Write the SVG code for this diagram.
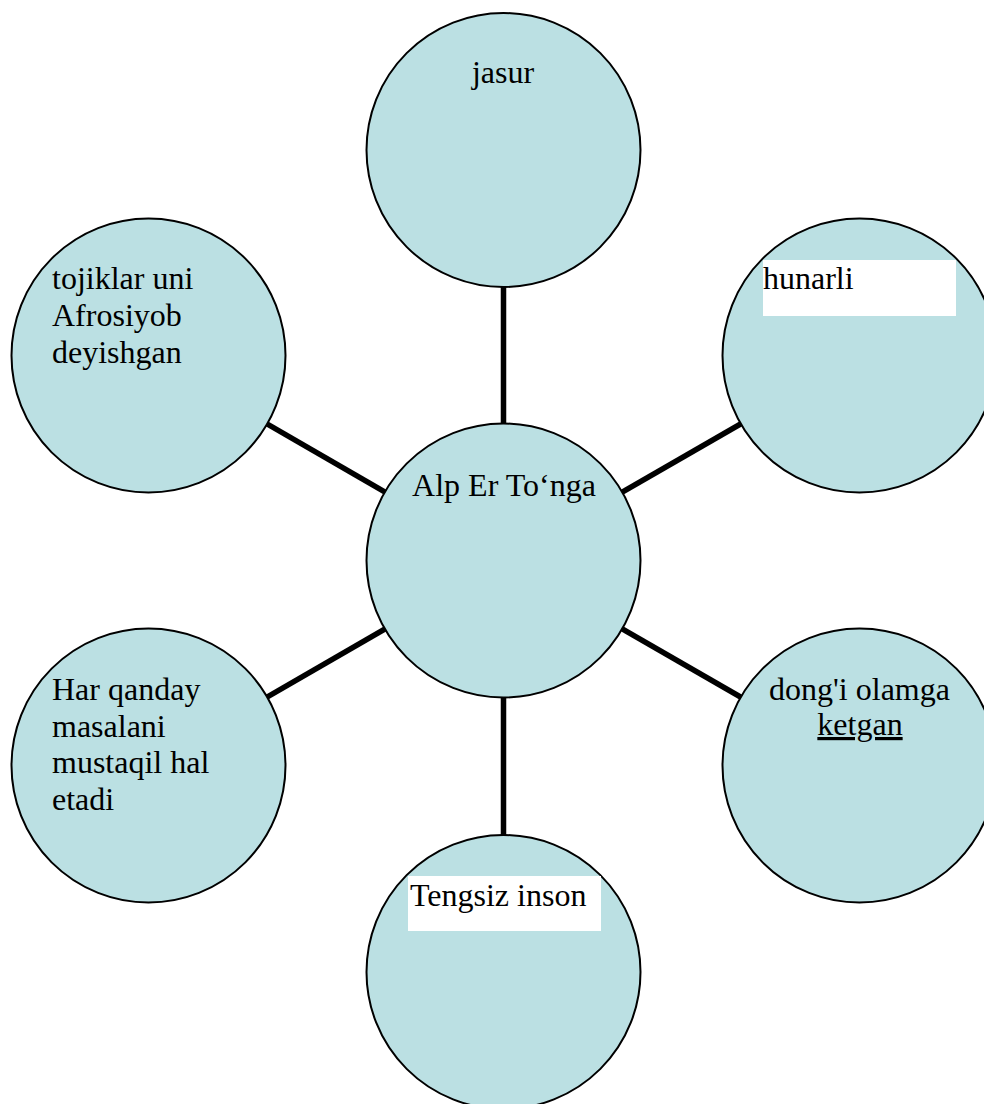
<svg xmlns="http://www.w3.org/2000/svg" width="984" height="1104" viewBox="0 0 984 1104">
<style>
.node{fill:#BBE0E3;stroke:#000;stroke-width:2}
.conn{stroke:#000;stroke-width:5.5;fill:none}
.t{font-family:"Liberation Serif","Times New Roman",serif;font-size:32px;fill:#000}
.box{fill:#fff}
</style>
<rect width="984" height="1104" fill="#fff"/>
<g id="connectors">
<line class="conn" x1="503.5" y1="150" x2="503.5" y2="560.5"/>
<line class="conn" x1="503.5" y1="560.5" x2="503.5" y2="972"/>
<line class="conn" x1="148.5" y1="355.5" x2="503.5" y2="560.5"/>
<line class="conn" x1="859.5" y1="355.5" x2="503.5" y2="560.5"/>
<line class="conn" x1="148.5" y1="765.5" x2="503.5" y2="560.5"/>
<line class="conn" x1="859.5" y1="765.5" x2="503.5" y2="560.5"/>
</g>
<g id="n-center">
<circle class="node" cx="503.5" cy="560.5" r="137"/>
<text class="t" x="504" y="496" text-anchor="middle">Alp Er To‘nga</text>
</g>
<g id="n-top">
<circle class="node" cx="503.5" cy="150" r="137"/>
<text class="t" x="503" y="83" text-anchor="middle">jasur</text>
</g>
<g id="n-righttop">
<circle class="node" cx="859.5" cy="355.5" r="137"/>
<rect class="box" x="763" y="260" width="193" height="56"/>
<text class="t" x="763" y="289">hunarli</text>
</g>
<g id="n-lefttop">
<circle class="node" cx="148.5" cy="355.5" r="137"/>
<text class="t" x="52" y="289">tojiklar uni</text>
<text class="t" x="52" y="326">Afrosiyob</text>
<text class="t" x="52" y="363">deyishgan</text>
</g>
<g id="n-leftbottom">
<circle class="node" cx="148.5" cy="765.5" r="137"/>
<text class="t" x="52" y="700">Har qanday</text>
<text class="t" x="52" y="737">masalani</text>
<text class="t" x="52" y="773">mustaqil hal</text>
<text class="t" x="52" y="810">etadi</text>
</g>
<g id="n-rightbottom">
<circle class="node" cx="859.5" cy="765.5" r="137"/>
<text class="t" x="859.5" y="700" text-anchor="middle">dong'i olamga</text>
<text class="t" x="860" y="735" text-anchor="middle" text-decoration="underline">ketgan</text>
</g>
<g id="n-bottom">
<circle class="node" cx="503.5" cy="972" r="137"/>
<rect class="box" x="408" y="876" width="193" height="55"/>
<text class="t" x="410" y="906">Tengsiz inson</text>
</g>
</svg>
